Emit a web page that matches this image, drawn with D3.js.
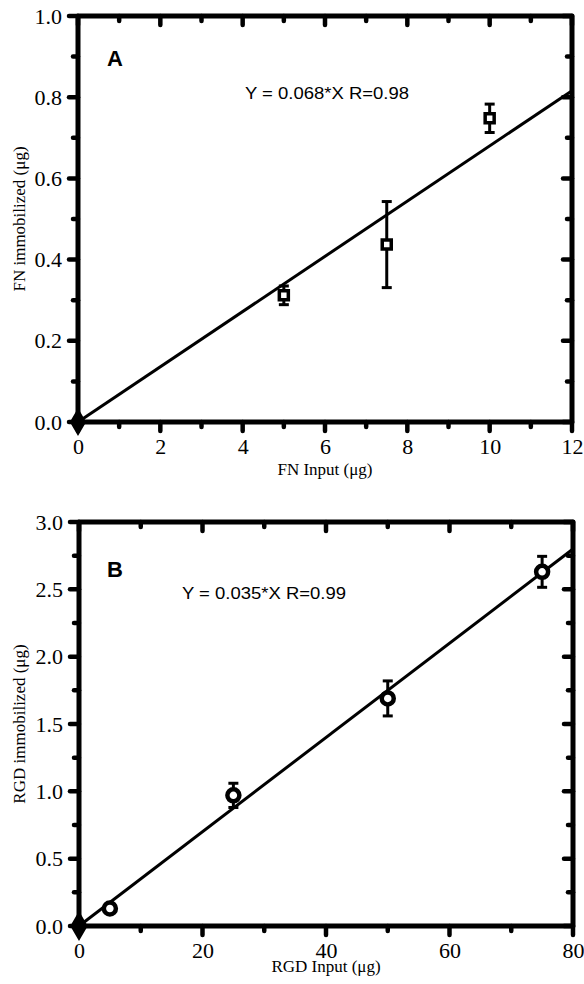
<!DOCTYPE html>
<html>
<head>
<meta charset="utf-8">
<script src="https://cdn.jsdelivr.net/npm/d3@7"></script>
<style>
  body { margin: 0; background: #fff; overflow: hidden; }
  svg { display: block; }
  .tick text { font-family: "Liberation Serif", "Times New Roman", serif; font-size: 22px; fill: #000; }
  .domain { display: none; }
  .title { font-family: "Liberation Serif", "Times New Roman", serif; font-size: 17px; fill: #000; }
  .letter { font-family: "Liberation Sans", Arial, sans-serif; font-size: 22px; font-weight: bold; fill: #000; }
  .eq { font-family: "Liberation Sans", Arial, sans-serif; font-size: 16px; fill: #000; }
</style>
</head>
<body>
<script>
const width = 584;
const height = 984;

// panel A - fibronectin
const fnInput = [0, 5, 7.5, 10];
const fnImmobilized = [0, 0.312, 0.437, 0.748];
const fnError = [0, 0.023, 0.106, 0.035];
const fnSlope = 0.068;
const fnEquation = 'Y = 0.068*X R=0.98';
const fnXTicks = [0, 2, 4, 6, 8, 10, 12];
const fnXMinor = [1, 3, 5, 7, 9, 11];
const fnYTicks = [0, 0.2, 0.4, 0.6, 0.8, 1.0];
const fnYMinor = [0.1, 0.3, 0.5, 0.7, 0.9];

// panel B - RGD peptide
const rgdInput = [0, 5, 25, 50, 75];
const rgdImmobilized = [0, 0.13, 0.97, 1.69, 2.63];
const rgdError = [0, 0.02, 0.09, 0.13, 0.115];
const rgdSlope = 0.035;
const rgdEquation = 'Y = 0.035*X R=0.99';
const rgdXTicks = [0, 20, 40, 60, 80];
const rgdXMinor = [10, 30, 50, 70];
const rgdYTicks = [0, 0.5, 1.0, 1.5, 2.0, 2.5, 3.0];
const rgdYMinor = [0.25, 0.75, 1.25, 1.75, 2.25, 2.75];

const svg = d3.select('body')
  .append('svg')
    .attr('width', width)
    .attr('height', height)
    .attr('viewBox', [0, 0, width, height].join(' '));

const build = (p) => {
  const box = p.box;
  const g = svg.append('g');

  const x = d3.scaleLinear()
    .domain([p.xTicks[0], p.xTicks[p.xTicks.length - 1]])
    .range([box.left, box.right]);

  const y = d3.scaleLinear()
    .domain([p.yTicks[0], p.yTicks[p.yTicks.length - 1]])
    .range([box.bottom, box.top]);

  // tick labels from d3 axes
  g.append('g')
    .attr('transform', `translate(0, ${box.bottom})`)
    .call(d3.axisBottom(x).tickValues(p.xTicks).tickSize(0).tickPadding(16).tickFormat(d3.format('d')));

  g.append('g')
    .attr('transform', `translate(${box.left}, 0)`)
    .call(d3.axisLeft(y).tickValues(p.yTicks).tickSize(0).tickPadding(16).tickFormat(d3.format('.1f')));

  // tick marks: outward on left/bottom, inward on top/right
  const major = 9;
  const minor = 5;
  const marks = [];
  p.xTicks.forEach(v => {
    marks.push([x(v), box.bottom, x(v), box.bottom + major]);
    marks.push([x(v), box.top, x(v), box.top + major]);
  });
  p.xMinor.forEach(v => {
    marks.push([x(v), box.bottom, x(v), box.bottom + minor]);
    marks.push([x(v), box.top, x(v), box.top + minor]);
  });
  p.yTicks.forEach(v => {
    marks.push([box.left, y(v), box.left - major, y(v)]);
    marks.push([box.right, y(v), box.right - major, y(v)]);
  });
  p.yMinor.forEach(v => {
    marks.push([box.left, y(v), box.left - minor, y(v)]);
    marks.push([box.right, y(v), box.right - minor, y(v)]);
  });

  g.append('g')
    .attr('stroke', '#000')
    .attr('stroke-width', 4.5)
    .attr('stroke-linecap', 'round')
    .selectAll('line')
    .data(marks)
    .enter()
      .append('line')
      .attr('x1', d => d[0])
      .attr('y1', d => d[1])
      .attr('x2', d => d[2])
      .attr('y2', d => d[3]);

  // frame
  g.append('rect')
    .attr('x', box.left)
    .attr('y', box.top)
    .attr('width', box.right - box.left)
    .attr('height', box.bottom - box.top)
    .attr('fill', 'none')
    .attr('stroke', '#000')
    .attr('stroke-width', 5)
    .attr('stroke-linejoin', 'round');

  // fitted line through origin
  const xMax = x.domain()[1];
  g.append('path')
    .datum([[0, 0], [xMax, p.slope * xMax]])
    .attr('fill', 'none')
    .attr('stroke', '#000')
    .attr('stroke-width', 3)
    .attr('d', d3.line().x(d => x(d[0])).y(d => y(d[1])));

  const points = p.input.map((v, i) => ({ x: v, y: p.values[i], e: p.errors[i] }));

  // error bars
  const bars = g.selectAll('.err')
    .data(points.filter(d => d.e > 0))
    .enter()
      .append('g')
      .attr('class', 'err')
      .attr('stroke', '#000')
      .attr('stroke-width', 3);

  bars.append('line')
    .attr('x1', d => x(d.x))
    .attr('x2', d => x(d.x))
    .attr('y1', d => y(d.y - d.e))
    .attr('y2', d => y(d.y + d.e));

  bars.append('line')
    .attr('x1', d => x(d.x) - 5)
    .attr('x2', d => x(d.x) + 5)
    .attr('y1', d => y(d.y - d.e))
    .attr('y2', d => y(d.y - d.e));

  bars.append('line')
    .attr('x1', d => x(d.x) - 5)
    .attr('x2', d => x(d.x) + 5)
    .attr('y1', d => y(d.y + d.e))
    .attr('y2', d => y(d.y + d.e));

  // markers; the origin point sits on the axes and shows as solid black
  g.selectAll('.pt')
    .data(points)
    .enter()
      .append('path')
      .attr('class', 'pt')
      .attr('transform', d => `translate(${x(d.x)}, ${y(d.y)})`)
      .attr('d', d => d.x === 0
        ? d3.symbol(d3.symbolDiamond, 130)()
        : d3.symbol(p.symbol, p.symbolSize)())
      .attr('fill', d => (d.x === 0 ? '#000' : '#fff'))
      .attr('stroke', '#000')
      .attr('stroke-width', p.markerStroke);

  // titles
  g.append('text')
    .attr('class', 'title')
    .attr('text-anchor', 'middle')
    .attr('x', (box.left + box.right) / 2)
    .attr('y', box.bottom + p.xTitleGap)
    .text(p.xTitle);

  g.append('text')
    .attr('class', 'title')
    .attr('text-anchor', 'middle')
    .attr('transform', `translate(25, ${(box.top + box.bottom) / 2}) rotate(-90)`)
    .text(p.yTitle);

  g.append('text')
    .attr('class', 'letter')
    .attr('x', p.letterPos[0])
    .attr('y', p.letterPos[1])
    .text(p.letter);

  g.append('text')
    .attr('class', 'eq')
    .attr('x', p.eqPos[0])
    .attr('y', p.eqPos[1])
    .attr('textLength', 164)
    .attr('lengthAdjust', 'spacingAndGlyphs')
    .text(p.equation);
};

build({
  box: { left: 78, right: 572, top: 16, bottom: 422 },
  input: fnInput,
  values: fnImmobilized,
  errors: fnError,
  slope: fnSlope,
  equation: fnEquation,
  xTicks: fnXTicks,
  xMinor: fnXMinor,
  yTicks: fnYTicks,
  yMinor: fnYMinor,
  symbol: d3.symbolSquare,
  symbolSize: 81,
  markerStroke: 3.5,
  xTitle: 'FN Input (\u03bcg)',
  yTitle: 'FN immobilized (\u03bcg)',
  xTitleGap: 53,
  letter: 'A',
  letterPos: [107, 66],
  eqPos: [245, 99],
});

build({
  box: { left: 79, right: 573, top: 522, bottom: 926 },
  input: rgdInput,
  values: rgdImmobilized,
  errors: rgdError,
  slope: rgdSlope,
  equation: rgdEquation,
  xTicks: rgdXTicks,
  xMinor: rgdXMinor,
  yTicks: rgdYTicks,
  yMinor: rgdYMinor,
  symbol: d3.symbolCircle,
  symbolSize: 113,
  markerStroke: 4.5,
  xTitle: 'RGD Input (\u03bcg)',
  yTitle: 'RGD immobilized (\u03bcg)',
  xTitleGap: 46,
  letter: 'B',
  letterPos: [107, 577],
  eqPos: [182, 599],
});
</script>
</body>
</html>
